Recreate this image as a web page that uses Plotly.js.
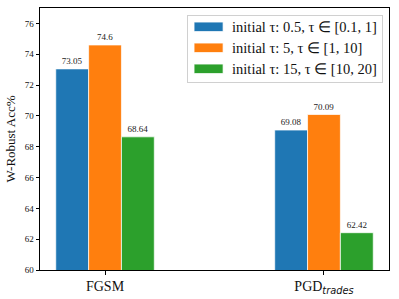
<!DOCTYPE html>
<html><head><meta charset="utf-8">
<script src="https://cdn.plot.ly/plotly-3.0.1.min.js"></script>
<style>body{margin:0;padding:0;background:#fff}</style>
</head><body>
<div id="chart" style="width:399px;height:299px"></div>
<script>
var categories = ["FGSM", "PGD<sub><i style=\"font-family:'DejaVu Sans'\">trades</i></sub>"];
var seriesNames = ["initial τ: 0.5, τ ∈ [0.1, 1]", "initial τ: 5, τ ∈ [1, 10]", "initial τ: 15, τ ∈ [10, 20]"];
var tau05 = [73.05, 69.08];
var tau5 = [74.6, 70.09];
var tau15 = [68.64, 62.42];
var labels05 = ["73.05", "69.08"];
var labels5 = ["74.6", "70.09"];
var labels15 = ["68.64", "62.42"];
var colors = ["#1f77b4", "#ff7f0e", "#2ca02c"];
var yTicks = [60, 62, 64, 66, 68, 70, 72, 74, 76];

var serif = "'Liberation Serif', 'Times New Roman', serif";
var vals = [tau05, tau5, tau15];
var labs = [labels05, labels5, labels15];
var xIdx = [0, 1];
var traces = vals.map(function (v, i) {
  return {
    type: "bar", x: xIdx, y: v, name: seriesNames[i],
    marker: {color: colors[i], line: {color: "rgba(255,255,255,0.7)", width: 1}},
    text: labs[i], textposition: "outside", cliponaxis: false,
    textfont: {family: serif, size: 9, color: "#222"}
  };
});
var layout = {
  width: 399, height: 299,
  margin: {l: 40, r: 10, t: 8, b: 29},
  paper_bgcolor: "#fff", plot_bgcolor: "#fff",
  barmode: "group", bargap: 0.55, bargroupgap: 0,
  showlegend: true,
  legend: {x: 0.983, y: 0.974, xanchor: "right", yanchor: "top",
    bgcolor: "rgba(255,255,255,0.8)", bordercolor: "#d0d0d0", borderwidth: 1,
    font: {family: serif, size: 14.5, color: "#111"}, tracegroupgap: 0, itemwidth: 34},
  xaxis: {range: [-0.297, 1.297], tickmode: "array", tickvals: xIdx, ticktext: categories,
    showline: true, linecolor: "#000", linewidth: 1, mirror: true,
    ticks: "outside", ticklen: 3.5, tickcolor: "#000", showgrid: false, zeroline: false,
    tickfont: {family: serif, size: 14, color: "#111"}},
  yaxis: {range: [60, 77], tickmode: "array", tickvals: yTicks,
    showline: true, linecolor: "#000", linewidth: 1, mirror: true,
    ticks: "outside", ticklen: 3.5, tickcolor: "#000", showgrid: false, zeroline: false,
    tickfont: {family: serif, size: 9, color: "#111"},
    title: {text: "W-Robust Acc%", font: {family: serif, size: 13, color: "#111"}, standoff: 6}},
  font: {family: serif}
};
Plotly.newPlot("chart", traces, layout, {displayModeBar: false, staticPlot: true}).then(function () {
  document.querySelectorAll("#chart .legend .legendpoints path").forEach(function (p) {
    p.setAttribute("d", "M13,4.7H-16V-4.7H13Z");
  });
  // tighten legend row spacing to match reference
  var items = document.querySelectorAll("#chart .legend .traces");
  var spacing = 21, firstY = 12;
  items.forEach(function (g, i) {
    var m = /translate\(([-\d.]+),\s*([-\d.]+)\)/.exec(g.getAttribute("transform") || "");
    var x = m ? m[1] : 1;
    g.setAttribute("transform", "translate(" + x + "," + (firstY + i * spacing) + ")");
  });
  var bg = document.querySelector("#chart .legend .bg");
  if (bg) bg.setAttribute("height", firstY + (items.length - 1) * spacing + 13);
});
</script>
</body></html>
